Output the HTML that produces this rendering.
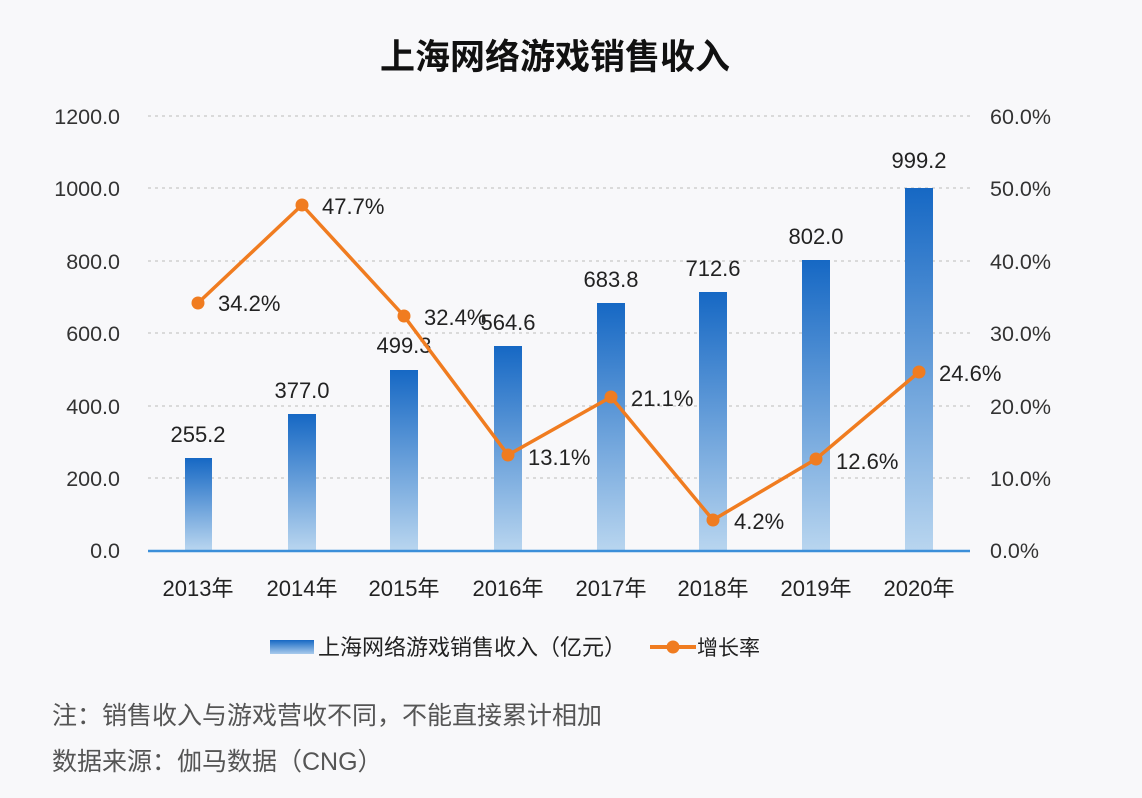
<!DOCTYPE html><html><head><meta charset="utf-8"><style>
html,body{margin:0;padding:0;background:#f8f8fa;}
svg{display:block;font-family:"Liberation Sans","Noto Sans CJK SC",sans-serif;}
</style></head><body>
<svg width="1142" height="798" viewBox="0 0 1142 798">
<defs><linearGradient id="g" x1="0" y1="0" x2="0" y2="1"><stop offset="0" stop-color="#1668c4"/><stop offset="1" stop-color="#b8d5ef"/></linearGradient>
<linearGradient id="gl" x1="0" y1="0" x2="0" y2="1"><stop offset="0" stop-color="#1668c4"/><stop offset="1" stop-color="#a9cbec"/></linearGradient></defs>
<rect width="1142" height="798" fill="#f8f8fa"/>
<text x="555" y="69" text-anchor="middle" font-size="35" font-weight="bold" fill="#111">上海网络游戏销售收入</text>
<g stroke="#c8c8c8" stroke-width="1.3" stroke-dasharray="3,4">
<line x1="148" x2="970" y1="116" y2="116"/><line x1="148" x2="970" y1="188" y2="188"/><line x1="148" x2="970" y1="261" y2="261"/><line x1="148" x2="970" y1="333" y2="333"/><line x1="148" x2="970" y1="406" y2="406"/><line x1="148" x2="970" y1="478" y2="478"/></g>
<g font-size="21.5" fill="#333" text-anchor="end">
<text x="120" y="124">1200.0</text><text x="120" y="196">1000.0</text><text x="120" y="269">800.0</text><text x="120" y="341">600.0</text><text x="120" y="414">400.0</text><text x="120" y="486">200.0</text><text x="120" y="558">0.0</text></g>
<g font-size="21.5" fill="#333">
<text x="990" y="124">60.0%</text><text x="990" y="196">50.0%</text><text x="990" y="269">40.0%</text><text x="990" y="341">30.0%</text><text x="990" y="414">20.0%</text><text x="990" y="486">10.0%</text><text x="990" y="558">0.0%</text></g>
<g fill="url(#g)">
<rect x="185" y="458" width="27" height="92"/>
<rect x="288" y="414" width="28" height="136"/>
<rect x="390" y="370" width="28" height="180"/>
<rect x="494" y="346" width="28" height="204"/>
<rect x="597" y="303" width="28" height="247"/>
<rect x="699" y="292" width="28" height="258"/>
<rect x="802" y="260" width="28" height="290"/>
<rect x="905" y="188" width="28" height="362"/></g>
<line x1="148" x2="970" y1="551" y2="551" stroke="#3b8fd9" stroke-width="2.5"/>
<g font-size="22" fill="#222" text-anchor="middle">
<text x="198" y="442">255.2</text><text x="302" y="398">377.0</text><text x="404" y="353">499.3</text><text x="508" y="330">564.6</text><text x="611" y="287">683.8</text><text x="713" y="276">712.6</text><text x="816" y="244">802.0</text><text x="919" y="168">999.2</text></g>
<polyline points="198,303 302,205 404,316 508,455 611,397 713,520 816,459 919,372" fill="none" stroke="#f07c20" stroke-width="3.5" stroke-linejoin="round"/>
<g fill="#f07c20"><circle cx="198" cy="303" r="6.5"/><circle cx="302" cy="205" r="6.5"/><circle cx="404" cy="316" r="6.5"/><circle cx="508" cy="455" r="6.5"/><circle cx="611" cy="397" r="6.5"/><circle cx="713" cy="520" r="6.5"/><circle cx="816" cy="459" r="6.5"/><circle cx="919" cy="372" r="6.5"/></g>
<g font-size="22" fill="#222">
<text x="218" y="311">34.2%</text><text x="322" y="214">47.7%</text><text x="424" y="325">32.4%</text><text x="528" y="465">13.1%</text><text x="631" y="406">21.1%</text><text x="734" y="529">4.2%</text><text x="836" y="469">12.6%</text><text x="939" y="381">24.6%</text></g>
<g font-size="22" fill="#222" text-anchor="middle">
<text x="198" y="596">2013年</text><text x="302" y="596">2014年</text><text x="404" y="596">2015年</text><text x="508" y="596">2016年</text><text x="611" y="596">2017年</text><text x="713" y="596">2018年</text><text x="816" y="596">2019年</text><text x="919" y="596">2020年</text></g>
<rect x="270" y="640" width="44" height="14" fill="url(#gl)"/>
<text x="318" y="655" font-size="22" fill="#222">上海网络游戏销售收入（亿元）</text>
<line x1="650" x2="696" y1="647" y2="647" stroke="#f07c20" stroke-width="4"/>
<circle cx="673" cy="647" r="6.5" fill="#f07c20"/>
<text x="697" y="655" font-size="21" fill="#222">增长率</text>
<text x="52" y="724" font-size="25" fill="#555">注：销售收入与游戏营收不同，不能直接累计相加</text>
<text x="52" y="770" font-size="25" fill="#555">数据来源：伽马数据（CNG）</text>
</svg></body></html>
